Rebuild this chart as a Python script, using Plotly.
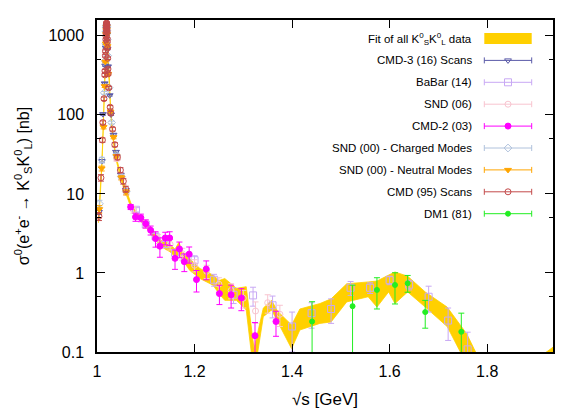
import plotly.graph_objects as go

# ---------------- data ----------------
# Fit band (lower / upper edge of the fit of all KsKL data)
fit_x = [1.0030, 1.0060, 1.0080, 1.0100, 1.0120, 1.0140, 1.0160, 1.0170, 1.0180, 1.0190, 1.0195,
         1.0200, 1.0210, 1.0220, 1.0240, 1.0260, 1.0280, 1.0300, 1.0340, 1.0400, 1.0500, 1.0600,
         1.0700, 1.0800, 1.0900, 1.1000, 1.1100, 1.1200, 1.1300, 1.1400, 1.1500, 1.1600, 1.1680,
         1.1750, 1.1900, 1.2110, 1.2380, 1.2500, 1.2620, 1.2860, 1.3060, 1.3220, 1.3410, 1.3580,
         1.3700, 1.3990, 1.4160, 1.4570, 1.4800, 1.5120, 1.5560, 1.5740, 1.5980, 1.6110, 1.6370,
         1.6730, 1.7180, 1.7580, 1.7800, 1.8500, 1.9000, 1.9350]
fit_lo = [4.3, 8.0, 12.3, 22.8, 47.5, 95, 219, 361, 618, 1045, 1235,
          1225, 998, 703, 342, 180, 109, 74, 42.8, 25.7, 14.5, 9.8,
          6.6, 5.2, 4.5, 3.8, 3.2, 2.6, 2.2, 2.0, 1.85, 1.6, 1.7,
          1.5, 1.08, 0.85, 0.70, 0.55, 0.45, 0.45, 0.34, 0.05, 0.28, 0.34,
          0.25, 0.11, 0.19, 0.23, 0.24, 0.43, 0.50, 0.37, 0.575, 0.41, 0.575,
          0.37, 0.21, 0.07, 0.04, 0.03, 0.05, 0.08]
fit_hi = [4.8, 8.9, 13.7, 25.2, 52.5, 105, 241, 399, 682, 1155, 1365,
          1355, 1102, 777, 378, 200, 121, 82, 47.2, 28.3, 16.5, 11.2,
          7.5, 5.9, 5.1, 4.4, 3.7, 3.1, 2.6, 2.5, 2.3, 2.0, 2.45,
          1.85, 1.52, 1.14, 0.94, 0.80, 0.85, 0.64, 0.67, 0.11, 0.36, 0.45,
          0.33, 0.22, 0.35, 0.41, 0.47, 0.73, 0.77, 0.79, 0.94, 1.03, 0.91,
          0.575, 0.37, 0.17, 0.09, 0.06, 0.08, 0.115]

# CMD-3 (16) scans
cmd3_x = [1.0040, 1.0101, 1.0122, 1.0157, 1.0168, 1.0178, 1.0187, 1.0190, 1.0193, 1.0196, 1.0199,
          1.0202, 1.0207, 1.0216, 1.0227, 1.0260, 1.0289, 1.0339, 1.0389, 1.0489, 1.0594]
cmd3_y = [5.9, 26, 102, 250, 420, 710, 1080, 1220, 1310, 1350, 1320,
          1230, 1030, 680, 410, 177, 101, 56, 34, 17.5, 11.2]
cmd3_e = [0.4, 1.2, 3, 6, 9, 14, 20, 22, 24, 24, 24, 22, 19, 13, 9, 4, 2.5, 1.5, 1.0, 0.6, 0.5]

# BaBar (14)
babar_x = [1.08, 1.10, 1.12, 1.14, 1.16, 1.18, 1.20, 1.24, 1.28, 1.32, 1.36, 1.40, 1.44, 1.48,
           1.52, 1.56, 1.60, 1.64, 1.68, 1.72, 1.76]
babar_y = [6.3, 4.1, 2.9, 2.3, 1.8, 1.55, 1.45, 0.82, 0.53, 0.52, 0.39, 0.21, 0.31, 0.35,
           0.65, 0.65, 0.81, 0.71, 0.50, 0.25, 0.108]
babar_e = [0.4, 0.3, 0.25, 0.2, 0.18, 0.17, 0.2, 0.14, 0.12, 0.14, 0.12, 0.11, 0.11, 0.12,
           0.13, 0.1, 0.1, 0.1, 0.18, 0.11, 0.07]

# SND (06)
snd06_x = [1.04, 1.05, 1.06, 1.075, 1.10, 1.125, 1.15, 1.175, 1.20, 1.225, 1.25, 1.275, 1.30,
           1.325, 1.35, 1.375]
snd06_y = [28, 16.5, 10.5, 6.3, 4.1, 2.7, 2.3, 1.75, 1.25, 1.05, 0.72, 0.6, 0.48, 0.33, 0.42, 0.3]
snd06_e = [2.0, 1.2, 0.8, 0.6, 0.45, 0.35, 0.35, 0.3, 0.22, 0.2, 0.15, 0.13, 0.12, 0.1, 0.11, 0.09]

# CMD-2 (03)
cmd2_x = [1.069, 1.079, 1.090, 1.100, 1.110, 1.120, 1.129, 1.140, 1.149, 1.160, 1.169, 1.179,
          1.189, 1.204, 1.224, 1.251, 1.275, 1.296, 1.324, 1.367]
cmd2_y = [6.84, 5.1, 5.0, 4.2, 3.47, 2.72, 2.18, 2.77, 2.77, 1.53, 2.01, 1.39, 1.73, 0.824,
          1.12, 0.548, 0.53, 0.483, 0.161, 0.243]
cmd2_e = [0.5, 0.6, 0.55, 0.5, 0.45, 0.6, 0.6, 0.5, 0.55, 0.42, 0.45, 0.35, 0.4, 0.25, 0.3,
          0.15, 0.17, 0.15, 0.075, 0.085]

# SND (00) - charged modes
sndc_x = [1.0050, 1.0100, 1.0150, 1.0170, 1.0180, 1.0188, 1.0192, 1.0196, 1.0200, 1.0204,
          1.0210, 1.0220, 1.0250, 1.0300, 1.0400, 1.0500, 1.0600]
sndc_y = [7.5, 27, 190, 480, 790, 1130, 1280, 1340, 1300, 1170, 900, 560, 220, 80, 31, 16.5, 10.8]
sndc_e = [0.8, 2, 8, 15, 22, 30, 33, 34, 33, 30, 24, 16, 8, 3.5, 1.6, 1.0, 0.8]

# SND (00) - neutral modes
sndn_x = [1.0046, 1.0096, 1.0135, 1.0158, 1.0170, 1.0180, 1.0186, 1.0190, 1.0194, 1.0198,
          1.0202, 1.0206, 1.0214, 1.0230, 1.0278, 1.0340, 1.0398, 1.0500, 1.0598]
sndn_y = [6.4, 21, 70, 230, 470, 800, 1050, 1200, 1300, 1290, 1200, 1050, 740, 330, 110, 52,
          30, 16, 10.5]
sndn_e = [0.7, 1.5, 3.5, 8, 14, 22, 28, 30, 32, 32, 30, 28, 20, 10, 4, 2.2, 1.5, 1.0, 0.8]

# CMD (95) scans
cmd95_x = [1.0040, 1.0081, 1.0111, 1.0143, 1.0163, 1.0172, 1.0182, 1.0186, 1.0189, 1.0191,
           1.0193, 1.0195, 1.0197, 1.0199, 1.0201, 1.0203, 1.0206, 1.0210, 1.0215, 1.0220,
           1.0229, 1.0240, 1.0270, 1.0280, 1.0320, 1.0365, 1.0420, 1.0480, 1.0540, 1.0590,
           1.0120, 1.0160, 1.0175, 1.0184, 1.0192, 1.0196, 1.0200, 1.0205, 1.0212, 1.0225]
cmd95_y = [5.2, 16, 48, 160, 360, 560, 900, 1060, 1200, 1290, 1370, 1440, 1450, 1400, 1340,
           1260, 1120, 920, 700, 520, 330, 220, 125, 105, 66, 42, 29, 20, 14.5, 11.5,
           80, 320, 640, 990, 1330, 1420, 1380, 1180, 840, 380]
cmd95_e = [0.6, 1.5, 3, 8, 15, 22, 32, 36, 40, 42, 44, 45, 45, 44, 42, 40, 36, 30, 24, 18,
           12, 9, 6, 5, 3.5, 2.5, 2, 1.5, 1.2, 1.0, 4, 14, 24, 34, 42, 44, 43, 38, 28, 14]

# DM1 (81)
dm1_x = [1.441, 1.524, 1.574, 1.611, 1.637, 1.673, 1.747]
dm1_y = [0.243, 0.38, 0.61, 0.705, 0.74, 0.32, 0.18]
dm1_eplus = [0.19, 0.32, 0.26, 0.30, 0.19, 0.13, 0.13]
dm1_eminus = [0.236, 0.37, 0.26, 0.30, 0.17, 0.12, 0.175]

legend_labels = ["Fit of all K<sup>0</sup><sub>S</sub>K<sup>0</sup><sub>L</sub> data",
                 "CMD-3 (16) Scans", "BaBar (14)", "SND (06)", "CMD-2 (03)",
                 "SND (00) - Charged Modes", "SND (00) - Neutral Modes",
                 "CMD (95) Scans", "DM1 (81)"]

# ---------------- styles ----------------
FIT_COLOR = "#ffd000"
series = [
    dict(x=cmd3_x, y=cmd3_y, e=cmd3_e, color="#5a5aa8", symbol="triangle-down-open", size=6),
    dict(x=babar_x, y=babar_y, e=babar_e, color="#c8a8f4", symbol="square-open", size=7),
    dict(x=snd06_x, y=snd06_y, e=snd06_e, color="#f8c4cf", symbol="circle-open", size=6),
    dict(x=cmd2_x, y=cmd2_y, e=cmd2_e, color="#ff00ff", symbol="circle", size=6),
    dict(x=sndc_x, y=sndc_y, e=sndc_e, color="#b0c2dc", symbol="diamond-open", size=6),
    dict(x=sndn_x, y=sndn_y, e=sndn_e, color="#ffa500", symbol="triangle-down", size=6),
    dict(x=cmd95_x, y=cmd95_y, e=cmd95_e, color="#c44a4a", symbol="circle-open", size=6),
    dict(x=dm1_x, y=dm1_y, e=dm1_eplus, em=dm1_eminus, color="#22ee22", symbol="circle", size=5),
]

fig = go.Figure()

# fit band
fig.add_trace(go.Scatter(
    x=fit_x + fit_x[::-1], y=fit_hi + fit_lo[::-1],
    fill="toself", fillcolor=FIT_COLOR, mode="lines",
    line=dict(color=FIT_COLOR, width=0.8), hoverinfo="skip", showlegend=False))

for s in series:
    err = dict(type="data", array=s["e"], color=s["color"], thickness=1, width=3, visible=True)
    if "em" in s:
        err["symmetric"] = False
        err["arrayminus"] = s["em"]
    fig.add_trace(go.Scatter(
        x=s["x"], y=s["y"], mode="markers", error_y=err,
        marker=dict(symbol=s["symbol"], size=s["size"], color=s["color"],
                    line=dict(color=s["color"], width=1)),
        showlegend=False))

# ---------------- custom gnuplot-like key (pixel coords on overlay axes) ----------------
row_y = [38.5, 60.4, 82.3, 104.2, 126.1, 148.0, 169.9, 191.8, 213.7]
text_right = 474
sample_c = 508
sample_half = 23.7

annotations = []
for lab, ry in zip(legend_labels, row_y):
    annotations.append(dict(x=text_right, y=ry, xref="x2", yref="y2", text=lab,
                            showarrow=False, xanchor="right", yanchor="middle",
                            font=dict(size=11.5, color="#000000",
                                      family="Liberation Sans, Arial, sans-serif")))

shapes = [dict(type="rect", xref="x2", yref="y2", x0=sample_c - sample_half,
               x1=sample_c + sample_half, y0=row_y[0] - 5.5, y1=row_y[0] + 5.5,
               fillcolor=FIT_COLOR, line=dict(width=0), layer="above")]

for s, ry in zip(series, row_y[1:]):
    fig.add_trace(go.Scatter(
        x=[sample_c], y=[ry], xaxis="x2", yaxis="y2", mode="markers",
        error_x=dict(type="data", array=[sample_half], color=s["color"], thickness=1, width=3),
        marker=dict(symbol=s["symbol"], size=s["size"], color=s["color"],
                    line=dict(color=s["color"], width=1)),
        showlegend=False, hoverinfo="skip"))

font_main = "Liberation Sans, Arial, sans-serif"
fig.update_layout(
    width=584, height=409,
    margin=dict(l=97, r=31, t=20, b=57, autoexpand=False),
    paper_bgcolor="white", plot_bgcolor="white",
    showlegend=False,
    font=dict(family=font_main, color="#000000", size=16),
    xaxis=dict(range=[1.0, 1.935], tickvals=[1.0, 1.2, 1.4, 1.6, 1.8],
               ticktext=["1", "1.2", "1.4", "1.6", "1.8"],
               ticks="inside", ticklen=8, tickwidth=1, tickcolor="black",
               mirror="ticks", showline=True, linecolor="black", linewidth=1.5,
               showgrid=False, zeroline=False, tickfont=dict(size=16),
               automargin=False, ticklabelstandoff=4,
               title=dict(text="√s [GeV]", font=dict(size=17))),
    yaxis=dict(type="log", range=[-1, 3.2], tickvals=[0.1, 1, 10, 100, 1000],
               ticktext=["0.1", "1", "10", "100", "1000"],
               ticks="inside", ticklen=8, tickwidth=1, tickcolor="black",
               minor=dict(tickvals=[0.5, 5, 50, 500], ticks="inside", ticklen=4,
                          tickcolor="black", showgrid=False),
               mirror="ticks", showline=True, linecolor="black", linewidth=1.5,
               showgrid=False, zeroline=False, tickfont=dict(size=16),
               automargin=False, ticklabelstandoff=8,
               title=dict(text="σ<sup>0</sup>(e<sup>+</sup>e<sup>-</sup> → K<sup>0</sup><sub>S</sub>K<sup>0</sup><sub>L</sub>) [nb]",
                          font=dict(size=16))),
    xaxis2=dict(overlaying="x", range=[97, 553], visible=False, fixedrange=True),
    yaxis2=dict(overlaying="y", range=[352, 20], visible=False, fixedrange=True),
    annotations=annotations,
    shapes=shapes,
)

fig.write_html("out.html")
